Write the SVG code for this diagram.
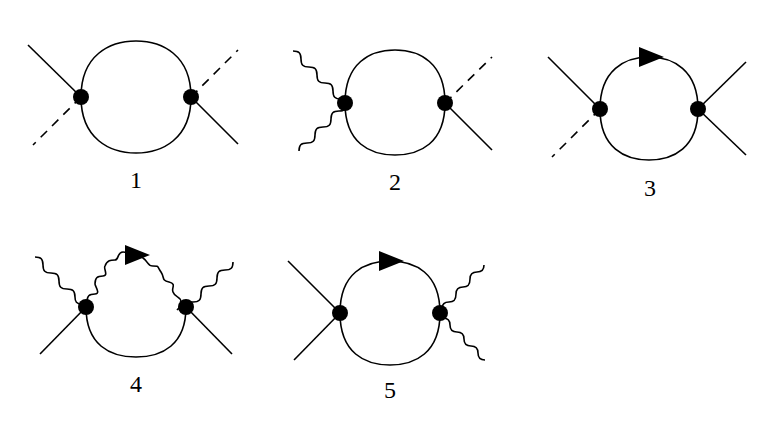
<svg xmlns="http://www.w3.org/2000/svg" width="782" height="424" viewBox="0 0 782 424">
<style>
path,line{fill:none;stroke:#000;stroke-width:1.6}
.d{stroke-dasharray:9,7}
.v{fill:#000;stroke:none}
.a{fill:#000;stroke:none}
text{font-family:"Liberation Serif",serif;font-size:24px;text-anchor:middle}
</style>
<g id="connectors">
<line x1="28" y1="45" x2="81" y2="97"/><line class="d" x1="81" y1="97" x2="33" y2="145"/>
<line class="d" x1="191" y1="97" x2="238" y2="50"/><line x1="191" y1="97" x2="238" y2="144"/>
<path d="M293,51c6,0 8,2 8,8s2,8 8,8c6,0 8,2 8,8s2,8 8,8c6,0 8,2 8,8s2,8 8,8l4,4"/>
<path d="M299,151c0,-6 2,-8 8,-8s8,-2 8,-8c0,-6 2,-8 8,-8s8,-2 8,-8c0,-6 2,-8 8,-8s6,-2 7,-8"/>
<line class="d" x1="445" y1="103" x2="492" y2="57"/><line x1="445" y1="103" x2="492" y2="150"/>
<line x1="548" y1="57" x2="600" y2="109"/><line class="d" x1="600" y1="109" x2="552" y2="157"/>
<line x1="698" y1="109" x2="746" y2="62"/><line x1="698" y1="109" x2="746" y2="155"/>
<path d="M35,257c6,0 8,2 8,8s2,8 8,8c6,0 8,2 8,8s2,8 8,8c6,0 8,2 8,8s2,6 8,8"/>
<path d="M233,262c0,6 -2,8 -8,8s-8,2 -8,8c0,6 -2,8 -8,8s-8,2 -8,8c0,6 -2,8 -8,8s-6,2 -8,5"/>
<path d="M87,302c0,-6 2,-8 8,-8s0,-8 0,-10c0,-6 2,-8 8,-8s0,-8 2,-10c2,-6 6,-6 10,-6s2,-8 8,-8c6,0 6,2 10,4s6,-2 10,2c6,4 4,8 10,8s4,0 8,6c4,6 0,8 8,10s2,6 4,10c2,6 8,4 8,10s-2,6 -4,8"/>
<line x1="86" y1="307" x2="40" y2="354"/><line x1="186" y1="307" x2="232" y2="354"/>
<line x1="288" y1="261" x2="340" y2="313"/><line x1="340" y1="313" x2="294" y2="360"/>
<path d="M441,309c2,-5 3,-7 8,-7s7,-2 7,-8c0,-5 2,-7 7,-7s7,-2 7,-8c0,-5 2,-7 7,-7s7,-2 7,-7"/>
<path d="M443,318c5,0 7,2 7,7s2,7 7,7c5,0 7,2 7,7s2,7 7,7c5,0 7,2 7,7s2,7 7,7"/>
</g>
<g id="n1">
<path d="M81,97C81,55 110,41 136,41C162,41 191,55 191,97C191,139 162,153 136,153C110,153 81,139 81,97Z"/>
<circle class="v" cx="81" cy="97" r="8"/><circle class="v" cx="191" cy="97" r="8"/>
<text x="136" y="188">1</text></g>
<g id="n2">
<path d="M345,103C345,63 370,50 395,50C420,50 445,63 445,103C445,143 420,155 395,155C370,155 345,143 345,103Z"/>
<circle class="v" cx="345" cy="103" r="8"/><circle class="v" cx="445" cy="103" r="8"/>
<text x="395" y="190">2</text></g>
<g id="n3">
<path d="M600,109C600,70 625,57 649,57C673,57 698,70 698,109C698,148 673,160 649,160C625,160 600,148 600,109Z"/>
<path class="a" d="M639,47L664,57L639,67Z"/>
<circle class="v" cx="600" cy="109" r="8"/><circle class="v" cx="698" cy="109" r="8"/>
<text x="650" y="196">3</text></g>
<g id="n4">
<path d="M86,307C86,345 110,357 136,357C162,357 186,345 186,307"/>
<path class="a" d="M125,245L150,255L125,265Z"/>
<circle class="v" cx="86" cy="307" r="8"/><circle class="v" cx="186" cy="307" r="8"/>
<text x="136" y="392">4</text></g>
<g id="n5">
<path d="M340,313C340,273 365,261 390,261C415,261 440,273 440,313C440,353 415,365 390,365C365,365 340,353 340,313Z"/>
<path class="a" d="M379,251L404,261L379,271Z"/>
<circle class="v" cx="340" cy="313" r="8"/><circle class="v" cx="440" cy="313" r="8"/>
<text x="390" y="398">5</text></g>
</svg>
